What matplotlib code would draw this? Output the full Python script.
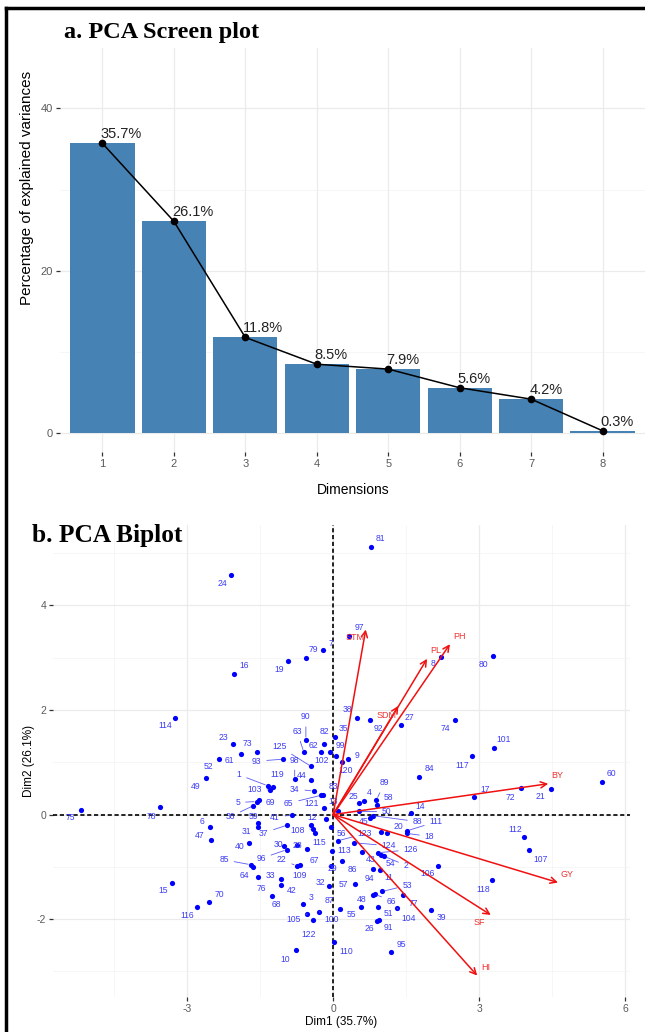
import numpy as np
import matplotlib
matplotlib.use("Agg")
import matplotlib.pyplot as plt
from matplotlib.lines import Line2D

plt.rcParams['font.family'] = ['Liberation Sans', 'DejaVu Sans']
plt.rcParams['axes.unicode_minus'] = False

# scree plot data
dims = [1, 2, 3, 4, 5, 6, 7, 8]
explained = [35.7, 26.1, 11.8, 8.5, 7.9, 5.6, 4.2, 0.3]

# individuals (genotypes) on Dim1 / Dim2
obs_labels = ['24', '16', '19', '79', '7', '81', '97', '8', '80', '114',
              '75', '78', '90', '63', '82', '62', '102', '99', '23', '73',
              '61', '52', '49', '125', '93', '98', '44', '119', '1', '103',
              '34', '83', '65', '121', '13', '5', '69', '36', '6', '47',
              '59', '31', '41', '37', '12', '108', '40', '30', '96', '28',
              '115', '113', '56', '85', '64', '22', '109', '67', '33', '76',
              '42', '68', '3', '105', '122', '10', '15', '70', '116', '100',
              '32', '29', '86', '94', '11', '54', '2', '126', '43', '124',
              '123', '106', '57', '48', '53', '66', '77', '104', '39', '51',
              '91', '26', '55', '87', '95', '110', '118', '38', '92', '27',
              '74', '35', '9', '120', '117', '84', '17', '89', '58', '25',
              '4', '14', '50', '45', '88', '111', '18', '20', '101', '72',
              '21', '60', '112', '107', '46', '71']
dim1 = [-2.09, -2.03, -0.92, -0.55, -0.21, 0.77, 0.33, 2.21, 3.28, -3.25,
        -5.19, -3.56, -0.56, -0.60, -0.18, -0.24, -0.07, 0.06, -2.05, -1.56,
        -1.90, -2.35, -2.61, -0.45, -1.02, -0.79, -0.46, -1.24, -1.34, -1.29,
        -0.40, -0.21, -0.24, -0.18, 0.10, -1.57, -1.53, -1.64, -2.53, -2.50,
        -1.54, -1.54, -0.85, -0.94, -0.46, -0.41, -1.73, -1.01, -0.95, -0.75,
        -0.38, -0.03, -0.05, -1.69, -1.64, -0.75, -0.69, -0.53, -1.07, -1.54,
        -1.07, -1.26, -0.62, -0.53, -0.42, -0.77, -3.31, -2.55, -2.80, -0.29,
        -0.08, -0.05, 0.19, 0.81, 0.96, 0.99, 1.05, 0.92, 0.60, 0.43,
        0.10, 2.15, 0.44, 0.81, 1.01, 0.85, 1.44, 1.31, 2.01, 0.93,
        0.95, 0.90, 0.58, 0.14, 1.19, 0.02, 3.27, 0.49, 0.75, 1.39,
        2.51, 0.03, 0.31, 0.19, 2.86, 1.77, 2.90, 0.89, 0.91, 0.53,
        0.64, 1.59, 0.53, 0.75, 0.81, 1.52, 1.51, 1.11, 3.30, 3.85,
        4.47, 5.53, 3.92, 4.03, -0.15, 0.99]
dim2 = [4.58, 2.69, 2.94, 3.00, 3.14, 5.12, 3.42, 3.02, 3.03, 1.85,
        0.09, 0.14, 1.43, 1.19, 1.35, 1.20, 1.19, 1.13, 1.35, 1.20,
        1.15, 1.07, 0.70, 0.92, 1.06, 0.68, 0.67, 0.52, 0.55, 0.47,
        0.45, 0.37, 0.37, 0.12, 0.06, 0.25, 0.28, 0.17, -0.24, -0.48,
        -0.16, -0.23, -0.01, -0.20, -0.20, -0.27, -0.54, -0.60, -0.67, -0.58,
        -0.36, -0.69, -0.23, -0.96, -1.00, -0.98, -0.97, -0.66, -1.24, -1.20,
        -1.35, -1.55, -1.71, -1.90, -2.02, -2.60, -1.30, -1.68, -1.76, -1.86,
        -1.36, -0.98, -0.88, -1.04, -1.06, -0.77, -0.80, -0.73, -0.71, -0.54,
        -0.50, -0.99, -1.33, -1.54, -1.47, -1.52, -1.54, -1.79, -1.82, -1.76,
        -2.01, -2.03, -1.76, -1.80, -2.63, -2.44, -1.26, 1.85, 1.80, 1.71,
        1.80, 1.49, 1.07, 1.01, 1.12, 0.72, 0.34, 0.28, 0.19, 0.22,
        0.26, 0.03, 0.06, -0.06, -0.02, -0.31, -0.36, -0.36, 1.28, 0.50,
        0.49, 0.63, -0.43, -0.68, -0.09, -0.33]
hidden_labels = ['46', '71']

# variables (loadings, scaled)
var_names = ['STM', 'PL', 'PH', 'SDM', 'BY', 'GY', 'SF', 'HI']
var_dim1 = [0.67, 1.93, 2.40, 1.34, 4.42, 4.62, 3.24, 2.96]
var_dim2 = [3.54, 2.98, 3.26, 2.08, 0.59, -1.30, -1.92, -3.08]

# label placement (pixels, dx right / dy down) as repelled in the original
label_offsets = {
    '24': (-9, 8), '16': (10, -8), '19': (-9, 9), '79': (7, -8), '7': (8, -7),
    '81': (10, -8), '97': (10, -8), '8': (-8, 7), '80': (-9, 8), '114': (-10, 8),
    '75': (-10, 8), '78': (-9, 9), '90': (0, -23), '63': (-7, -21), '82': (0, -13),
    '62': (-8, -6), '102': (-8, 8), '99': (4, -10), '23': (-10, -7), '73': (-10, -8),
    '61': (-11, 6), '52': (-10, 8), '49': (-10, 9), '125': (-32, -20), '93': (-27, 2),
    '98': (0, -19), '44': (-9, -4), '119': (4, -13), '1': (-29, -11), '103': (-16, -1),
    '34': (-19, -2), '83': (10, -9), '65': (-33, 8), '121': (-13, -5), '13': (-5, -10),
    '5': (-19, 1), '69': (12, 3), '36': (-23, 11), '6': (-8, -6), '47': (-12, -4),
    '59': (-5, -6), '31': (-12, 5), '41': (-17, 2), '37': (-24, 8), '12': (1, -8),
    '108': (-16, 2), '40': (-9, 4), '30': (-6, -1), '96': (-26, 9), '28': (1, 1),
    '115': (5, 9), '113': (13, 0), '56': (11, 7), '85': (-27, -5), '64': (-9, 9),
    '22': (-15, -6), '109': (0, 10), '67': (7, 11), '33': (-11, -4), '76': (3, 11),
    '42': (11, 5), '68': (5, 9), '3': (8, -6), '105': (-14, 6), '122': (-4, 14),
    '10': (-10, 9), '15': (-9, 8), '70': (10, -8), '116': (-10, 9), '100': (13, 8),
    '32': (-9, -3), '29': (2, 3), '86': (10, 9), '94': (-3, 10), '11': (9, 8),
    '54': (9, 9), '2': (22, 9), '126': (33, -3), '43': (8, 8), '124': (35, 3),
    '123': (27, -7), '106': (-10, 7), '57': (-11, 0), '48': (-11, 4), '53': (25, -6),
    '66': (17, 7), '77': (10, 8), '104': (12, 10), '39': (10, 8), '51': (10, 7),
    '91': (9, 8), '26': (-8, 8), '55': (-10, 8), '87': (-11, -8), '95': (10, -8),
    '110': (12, 9), '118': (-9, 9), '38': (-10, -8), '92': (9, 8), '27': (9, -8),
    '74': (-10, 8), '35': (9, -8), '9': (9, -3), '120': (3, 9), '117': (-10, 9),
    '84': (10, -8), '17': (11, -7), '89': (8, -17), '58': (11, -7), '25': (-6, -7),
    '4': (5, -8), '14': (10, -7), '50': (28, 0), '45': (-6, 4), '88': (45, 6),
    '111': (29, -9), '18': (23, 3), '20': (11, -7), '101': (10, -8), '72': (-10, 9),
    '21': (-10, 8), '60': (9, -8), '112': (-9, -8), '107': (11, 9),
}
var_offsets = {'STM': (-11, 8), 'PL': (9, -8), 'PH': (10, -8), 'SDM': (-12, 10),
               'BY': (9, -8), 'GY': (9, -8), 'SF': (-12, 8), 'HI': (9, -8)}

W, H = 645, 1032
fig = plt.figure(figsize=(W / 100, H / 100), dpi=100)


def box(l, t, r, b):
    return [l / W, 1 - b / H, (r - l) / W, (b - t) / H]


def px(x, y):
    return x / W, 1 - y / H


# ---- a. scree plot ----
ax1 = fig.add_axes(box(59.5, 48.3, 645.5, 451.6))
ax1.bar(dims, explained, width=0.9, color='#4682B4', zorder=2)
ax1.plot(dims, explained, color='black', lw=1.1, marker='o', ms=4.5, zorder=3)
for d, v in zip(dims, explained):
    ax1.annotate(f'{v}%', (d, v), xytext=(-2, 2), textcoords='offset pixels',
                 ha='left', va='bottom', fontsize=10.5, color='#222222', zorder=4)
ax1.set_xlim(0.4, 8.6)
ax1.set_ylim(-2.26, 47.4)
ax1.set_xticks(dims)
ax1.set_yticks([0, 20, 40])
ax1.set_yticks([10, 30], minor=True)
ax1.grid(True, which='major', color='#EBEBEB', lw=0.9, zorder=0)
ax1.grid(True, which='minor', axis='y', color='#F3F3F3', lw=0.5, zorder=0)
ax1.tick_params(which='major', length=3, width=0.9, color='#333333',
                labelcolor='#5A5A5A', labelsize=8, pad=2)
ax1.tick_params(which='minor', length=0)
for s in ax1.spines.values():
    s.set_visible(False)
ax1.set_axisbelow(True)
fig.text(*px(352.7, 490), 'Dimensions', ha='center', va='center', fontsize=10)
fig.text(*px(26.7, 188), 'Percentage of explained variances', rotation=90,
         ha='center', va='center', fontsize=11)
fig.text(*px(64, 37.7), 'a. PCA Screen plot', family='Liberation Serif',
         weight='bold', fontsize=17.5, ha='left', va='baseline')

# ---- b. biplot ----
ax2 = fig.add_axes(box(53.3, 525, 630, 997))
ax2.set_xlim(-5.75, 6.1)
ax2.set_ylim(-3.49, 5.54)
ax2.set_xticks([-3, 0, 3, 6])
ax2.set_xticks([-4.5, -1.5, 1.5, 4.5], minor=True)
ax2.set_yticks([-2, 0, 2, 4])
ax2.set_yticks([-3, -1, 1, 3, 5], minor=True)
ax2.grid(True, which='major', color='#EBEBEB', lw=0.9, zorder=0)
ax2.grid(True, which='minor', color='#F3F3F3', lw=0.5, zorder=0)
ax2.tick_params(which='major', length=3, width=0.9, color='#333333',
                labelcolor='#5A5A5A', labelsize=7.5, pad=2)
ax2.tick_params(which='minor', length=0)
for s in ax2.spines.values():
    s.set_visible(False)
ax2.set_axisbelow(True)
ax2.axhline(0, color='black', lw=1.2, ls=(0, (2.5, 1.6)), zorder=1)
ax2.axvline(0, color='black', lw=1.2, ls=(0, (2.5, 1.6)), zorder=1)

ax2.scatter(dim1, dim2, s=14, color='#0000FF', linewidths=0, zorder=3)
for lab, x, y in zip(obs_labels, dim1, dim2):
    if lab in hidden_labels:
        continue
    dx, dy = label_offsets.get(lab, (9, -8))
    far = np.hypot(dx, dy) > 15
    ax2.annotate(lab, (x, y), xytext=(dx, -dy), textcoords='offset pixels',
                 ha='center', va='center', fontsize=6.2, color='#3C3CF5',
                 arrowprops=dict(arrowstyle='-', color='#5A5AF5', lw=0.6,
                                 shrinkA=2, shrinkB=2) if far else None,
                 zorder=4)

for name, x, y in zip(var_names, var_dim1, var_dim2):
    ax2.annotate('', xy=(x, y), xytext=(0, 0),
                 arrowprops=dict(arrowstyle='->', color='#F01010', lw=1.1,
                                 shrinkA=0, shrinkB=0, mutation_scale=11),
                 zorder=5)
    dx, dy = var_offsets[name]
    ax2.annotate(name, (x, y), xytext=(dx, -dy), textcoords='offset pixels',
                 ha='center', va='center', fontsize=6.5, color='#F03030', zorder=6)

fig.text(*px(341.5, 1021.7), 'Dim1 (35.7%)', ha='center', va='center', fontsize=8.5)
fig.text(*px(29.3, 761), 'Dim2 (26.1%)', rotation=90, ha='center', va='center',
         fontsize=8.5)
fig.text(*px(31.7, 542.3), 'b. PCA Biplot', family='Liberation Serif',
         weight='bold', fontsize=18.3, ha='left', va='baseline')

# outer frame of the figure panel
fig.add_artist(Line2D([6 / W, 6 / W], [0, 1 - 8 / H], color='black', lw=2.5,
                      transform=fig.transFigure))
fig.add_artist(Line2D([6 / W, 1], [1 - 8 / H, 1 - 8 / H], color='black', lw=2.5,
                      transform=fig.transFigure))

fig.savefig('out.png', dpi=100)
